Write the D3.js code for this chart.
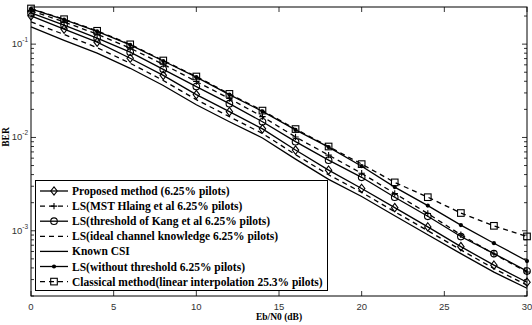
<!DOCTYPE html>
<html>
<head>
<meta charset="utf-8">
<script src="https://cdn.jsdelivr.net/npm/d3@7"></script>
<style>
  body { margin: 0; background: #fff; }
  svg { display: block; }
</style>
</head>
<body>
<div id="chart"></div>
<script>
/* BER vs Eb/N0 for the channel estimation methods */

const snr = [0, 2, 4, 6, 8, 10, 12, 14, 16, 18, 20, 22, 24, 26, 28, 30];

const proposed = [0.201, 0.145, 0.105, 0.0706, 0.0463, 0.0288, 0.0189, 0.01236, 0.00733, 0.00446,
                  0.00284, 0.00177, 0.00110, 0.000676, 0.000428, 0.000281];
const mstHlaing = [0.228, 0.173, 0.128, 0.0905, 0.0608, 0.0398, 0.0261, 0.0167, 0.01012, 0.00647,
                   0.00413, 0.00251, 0.00153, 0.000906, 0.000564, 0.000361];
const kang = [0.216, 0.160, 0.116, 0.0820, 0.0537, 0.0351, 0.0230, 0.01473, 0.00902, 0.00571,
              0.00374, 0.00229, 0.00143, 0.000867, 0.000569, 0.000370];
const ideal = [0.173, 0.127, 0.0917, 0.0624, 0.0408, 0.0254, 0.0167, 0.01104, 0.00655, 0.00398,
               0.00258, 0.00160, 0.00100, 0.000624, 0.000394, 0.000261];
const knownCsi = [0.153, 0.110, 0.0800, 0.0551, 0.0360, 0.0224, 0.01473, 0.00988, 0.00586, 0.00356,
                  0.00233, 0.00145, 0.000906, 0.000569, 0.000361, 0.000242];
const noThreshold = [0.239, 0.183, 0.137, 0.0982, 0.0659, 0.0443, 0.0288, 0.0190, 0.01205, 0.00788,
                     0.00492, 0.00294, 0.00186, 0.00115, 0.000736, 0.000474];
const classical = [0.241, 0.185, 0.139, 0.0995, 0.0668, 0.0450, 0.0293, 0.0194, 0.0123, 0.0080,
                   0.00518, 0.00330, 0.00229, 0.00155, 0.00113, 0.00087];

const legendLabels = [
    "Proposed method (6.25% pilots)",
    "LS(MST Hlaing et al 6.25% pilots)",
    "LS(threshold of Kang et al 6.25% pilots)",
    "LS(ideal channel knowledge 6.25% pilots)",
    "Known CSI",
    "LS(without threshold 6.25% pilots)",
    "Classical method(linear interpolation 25.3% pilots)"
];

const xTicks = [0, 5, 10, 15, 20, 25, 30];
const yMajor = [1e-1, 1e-2, 1e-3];

const series = [
    { values: proposed, dash: null, marker: "diamond" },
    { values: mstHlaing, dash: "5,4", marker: "plus" },
    { values: kang, dash: null, marker: "circle" },
    { values: ideal, dash: "5,4", marker: null },
    { values: knownCsi, dash: null, marker: null },
    { values: noThreshold, dash: null, marker: "dot" },
    { values: classical, dash: "5,4", marker: "square" }
];

const width = 532, height = 325,
      margin = ({ top: 7, right: 5, bottom: 29, left: 31 });

const svg = d3.select("#chart")
    .append("svg")
    .attr("width", width)
    .attr("height", height);

const x = d3.scaleLinear()
    .domain([0, 30])
    .range([margin.left, width - margin.right]);

const y = d3.scaleLog()
    .domain([2e-4, 0.25])
    .range([height - margin.bottom, margin.top]);

const x0 = x.range()[0], x1 = x.range()[1];
const y0 = y.range()[0], y1 = y.range()[1];

// minor log ticks
let minor = [];
for (let e = -4; e <= -1; e++) {
    for (let m = 2; m <= 9; m++) {
        const v = m * Math.pow(10, e);
        if (v >= 2e-4 && v <= 0.25) minor.push(v);
    }
}

const ticks = svg.append("g").attr("stroke", "#000").attr("stroke-width", 0.8);
minor.forEach(v => {
    ticks.append("line").attr("x1", x0).attr("x2", x0 + 3).attr("y1", y(v)).attr("y2", y(v));
    ticks.append("line").attr("x1", x1).attr("x2", x1 - 3).attr("y1", y(v)).attr("y2", y(v));
});
yMajor.forEach(v => {
    ticks.append("line").attr("x1", x0).attr("x2", x0 + 5).attr("y1", y(v)).attr("y2", y(v));
    ticks.append("line").attr("x1", x1).attr("x2", x1 - 5).attr("y1", y(v)).attr("y2", y(v));
});
xTicks.forEach(v => {
    ticks.append("line").attr("x1", x(v)).attr("x2", x(v)).attr("y1", y0).attr("y2", y0 - 5);
    ticks.append("line").attr("x1", x(v)).attr("x2", x(v)).attr("y1", y1).attr("y2", y1 + 5);
});

// tick labels
svg.append("g")
    .selectAll("text")
    .data(xTicks)
    .join("text")
    .attr("x", d => x(d))
    .attr("y", y0 + 14)
    .attr("text-anchor", "middle")
    .style("font-family", "Liberation Sans, Arial, sans-serif")
    .style("font-size", "9.5px")
    .style("fill", "#333")
    .text(d => d);

const yl = svg.append("g")
    .selectAll("text")
    .data(yMajor)
    .join("text")
    .attr("x", 28)
    .attr("y", d => y(d) + 3)
    .attr("text-anchor", "end")
    .style("font-family", "Liberation Sans, Arial, sans-serif")
    .style("font-size", "9.5px")
    .style("fill", "#333");
yl.append("tspan").text("10");
yl.append("tspan")
    .attr("dy", -5)
    .style("font-size", "6.5px")
    .text(d => Math.round(Math.log10(d)));

// axis names
svg.append("text")
    .attr("x", (x0 + x1) / 2)
    .attr("y", 320)
    .attr("text-anchor", "middle")
    .style("font-family", "Liberation Serif, Times New Roman, serif")
    .style("font-weight", "bold")
    .style("font-size", "9.5px")
    .text("Eb/N0 (dB)");

svg.append("text")
    .attr("transform", "translate(9,137) rotate(-90)")
    .attr("text-anchor", "middle")
    .style("font-family", "Liberation Serif, Times New Roman, serif")
    .style("font-weight", "bold")
    .style("font-size", "9.5px")
    .text("BER");

// markers
function drawMarker(g, type, cx, cy) {
    if (type === "diamond") {
        g.append("path")
            .attr("d", `M${cx},${cy - 4.2}L${cx + 3.2},${cy}L${cx},${cy + 4.2}L${cx - 3.2},${cy}Z`)
            .attr("fill", "none").attr("stroke", "#000").attr("stroke-width", 1.1);
    } else if (type === "plus") {
        g.append("path")
            .attr("d", `M${cx - 3.2},${cy}H${cx + 3.2}M${cx},${cy - 3.2}V${cy + 3.2}`)
            .attr("fill", "none").attr("stroke", "#000").attr("stroke-width", 1.1);
    } else if (type === "circle") {
        g.append("circle").attr("cx", cx).attr("cy", cy).attr("r", 3.3)
            .attr("fill", "none").attr("stroke", "#000").attr("stroke-width", 1.1);
    } else if (type === "dot") {
        g.append("circle").attr("cx", cx).attr("cy", cy).attr("r", 2.1)
            .attr("fill", "#000");
    } else if (type === "square") {
        g.append("rect").attr("x", cx - 3.3).attr("y", cy - 3.3)
            .attr("width", 6.6).attr("height", 6.6)
            .attr("fill", "none").attr("stroke", "#000").attr("stroke-width", 1.1);
    }
}

const line = d3.line()
    .x((d, i) => x(snr[i]))
    .y(d => y(d));

const plot = svg.append("g");
series.forEach(s => {
    plot.append("path")
        .attr("d", line(s.values))
        .attr("fill", "none")
        .attr("stroke", "#000")
        .attr("stroke-width", 1.3)
        .attr("stroke-dasharray", s.dash);
    if (s.marker) {
        s.values.forEach((v, i) => drawMarker(plot, s.marker, x(snr[i]), y(v)));
    }
});

// frame
svg.append("rect")
    .attr("x", x0).attr("y", y1)
    .attr("width", x1 - x0).attr("height", y0 - y1)
    .attr("fill", "none").attr("stroke", "#000").attr("stroke-width", 1);

// legend
const lg = svg.append("g");
lg.append("rect")
    .attr("x", 35.5).attr("y", 180.5)
    .attr("width", 292).attr("height", 110)
    .attr("fill", "#fff").attr("stroke", "#000").attr("stroke-width", 1);

legendLabels.forEach((lab, i) => {
    const ly = 191 + i * 15.1;
    lg.append("line")
        .attr("x1", 40).attr("x2", 68).attr("y1", ly).attr("y2", ly)
        .attr("stroke", "#000").attr("stroke-width", 1.3)
        .attr("stroke-dasharray", series[i].dash);
    if (series[i].marker) drawMarker(lg, series[i].marker, 54, ly);
    lg.append("text")
        .attr("x", 72).attr("y", ly + 4)
        .style("font-family", "Liberation Serif, Times New Roman, serif")
        .style("font-weight", "bold")
        .style("font-size", "11.5px")
        .text(lab);
});
</script>
</body>
</html>
